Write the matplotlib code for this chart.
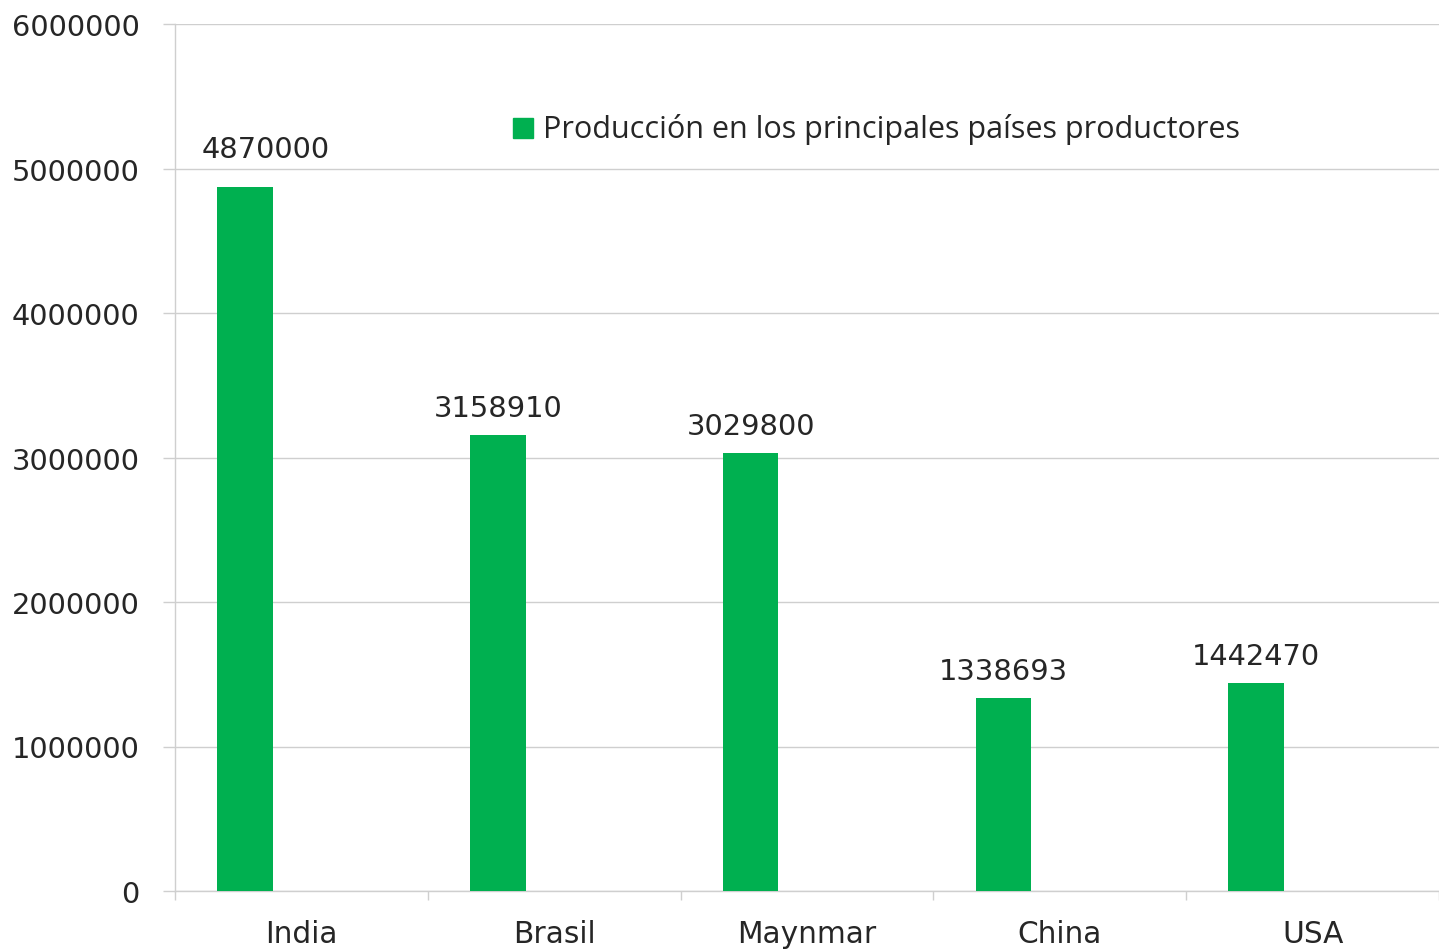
import matplotlib
matplotlib.use("Agg")
import matplotlib.pyplot as plt
import numpy as np
from matplotlib.patches import Rectangle

paises = ["India", "Brasil", "Maynmar", "China", "USA"]
produccion = [4870000, 3158910, 3029800, 1338693, 1442470]
yticks = [0, 1000000, 2000000, 3000000, 4000000, 5000000, 6000000]
leyenda = "Producción en los principales países productores"

verde = "#00B050"
gris_linea = "#CFCFCF"
texto = "#262626"

fig = plt.figure(figsize=(14.39, 9.53), dpi=100)
ax = fig.add_axes([175 / 1439, 61 / 953, 1264 / 1439, 867 / 953])

x = np.arange(len(paises))
ax.bar(x - 0.223, produccion, width=0.22, color=verde, zorder=3)

# etiquetas de valor (la de India va algo desplazada, como en el original)
for i, (xi, v) in enumerate(zip(x, produccion)):
    dx = 0.083 if i == 0 else 0.0
    dy = 170000 if i == 0 else 90000
    ax.text(xi - 0.223 + dx, v + dy, str(v), ha="center", va="bottom",
            fontsize=20.8, color=texto, family="DejaVu Sans")

ax.set_xlim(-0.5, len(paises) - 0.5)
ax.set_ylim(0, 6000000)
ax.set_yticks(yticks)
ax.set_yticklabels([str(t) for t in yticks], fontsize=20.8, color=texto)
ax.set_xticks(x)
ax.set_xticklabels(paises, fontsize=21.3, color=texto)
ax.set_xticks(np.arange(len(paises) + 1) - 0.5, minor=True)
ax.tick_params(axis="x", which="major", length=0, pad=20)
ax.tick_params(axis="x", which="minor", length=6.5, color=gris_linea, width=1)
ax.tick_params(axis="y", length=8.6, color=gris_linea, width=1, pad=17)

ax.grid(axis="y", color=gris_linea, linewidth=1, zorder=0)
for s in ["top", "right"]:
    ax.spines[s].set_visible(False)
for s in ["left", "bottom"]:
    ax.spines[s].set_color(gris_linea)
    ax.spines[s].set_linewidth(1)

# leyenda
ax.add_patch(Rectangle((0.2675, 0.868), 20 / 1264, 20 / 867, transform=ax.transAxes,
                       color=verde, clip_on=False, zorder=4))
ax.text(0.2915, 0.879, leyenda, transform=ax.transAxes, ha="left", va="center",
        fontsize=22, color=texto, family="Open Sans")

fig.savefig("out.png", dpi=100)
